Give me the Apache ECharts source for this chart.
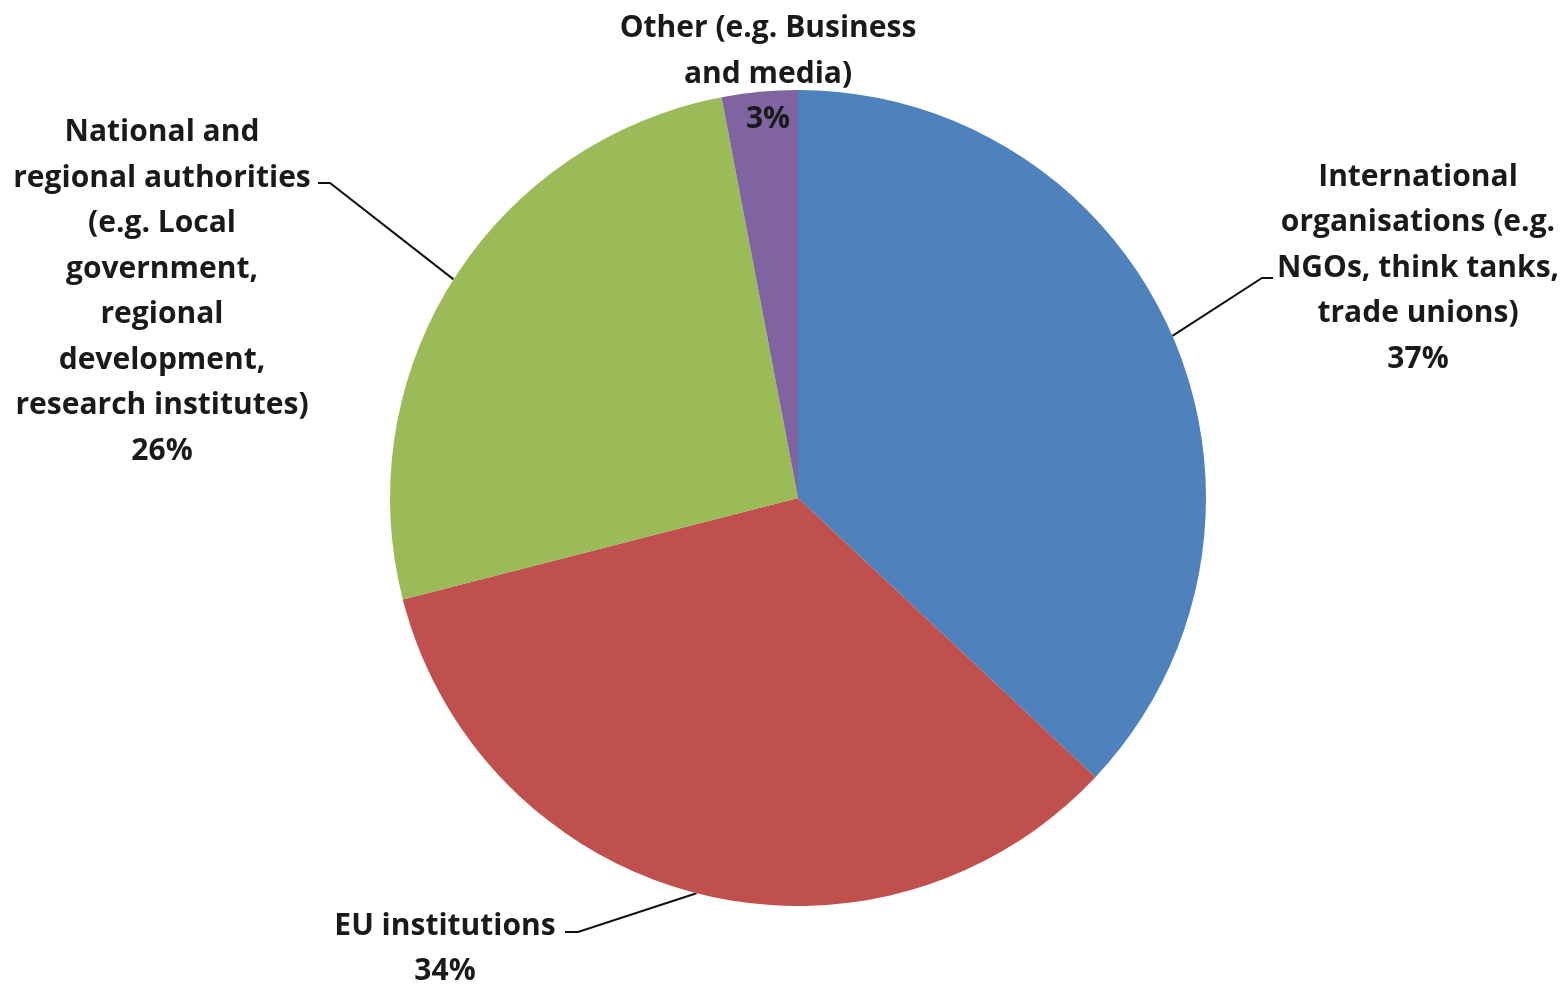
<!DOCTYPE html>
<html>
<head>
<meta charset="utf-8">
<script src="https://cdn.jsdelivr.net/npm/echarts@6/dist/echarts.min.js"></script>
<style>
html,body{margin:0;padding:0;background:#fff;}
#chart{width:1565px;height:984px;}
</style>
</head>
<body>
<div id="chart"></div>
<script>
// Data
const categories = [
  'International organisations (e.g. NGOs, think tanks, trade unions)',
  'EU institutions',
  'National and regional authorities (e.g. Local government, regional development, research institutes)',
  'Other (e.g. Business and media)'
];
const values = [37, 34, 26, 3];
const labelLines = [
  ['International', 'organisations (e.g.', 'NGOs, think tanks,', 'trade unions)'],
  ['EU institutions'],
  ['National and', 'regional authorities', '(e.g. Local', 'government,', 'regional', 'development,', 'research institutes)'],
  ['Other (e.g. Business', 'and media)']
];
const colors = ['#4F81BD', '#C0504D', '#9BBB59', '#8064A2'];

// label placement (layout only)
const labelPos = [
  { x: 1418, y: 268 },
  { x: 445, y: 949 },
  { x: 162, y: 292 },
  { x: 768, y: 74 }
];
const leaderEnds = [
  [[1262, 278], [1273, 278]],
  [[578, 932], [565, 932]],
  [[330, 183], [318, 183]],
  null
];

const chart = echarts.init(document.getElementById('chart'), null, { renderer: 'canvas' });

chart.setOption({
  animation: false,
  backgroundColor: '#ffffff',
  series: [{
    type: 'pie',
    center: [798, 498],
    radius: 408,
    startAngle: 90,
    clockwise: true,
    avoidLabelOverlap: false,
    itemStyle: { borderWidth: 0 },
    label: {
      show: true,
      position: 'outside',
      color: '#1a1a1a',
      fontFamily: 'Open Sans',
      fontWeight: 'bold',
      fontSize: 30,
      lineHeight: 45.5,
      align: 'center',
      formatter: function (p) {
        return labelLines[p.dataIndex].join('\n') + '\n' + p.value + '%';
      }
    },
    labelLine: {
      show: true,
      lineStyle: { color: '#111', width: 2 }
    },
    labelLayout: function (params) {
      const i = params.dataIndex;
      const out = {
        x: labelPos[i].x,
        y: labelPos[i].y,
        align: 'center',
        verticalAlign: 'middle'
      };
      if (leaderEnds[i] && params.labelLinePoints) {
        out.labelLinePoints = [params.labelLinePoints[0], leaderEnds[i][0], leaderEnds[i][1]];
      }
      return out;
    },
    data: categories.map(function (c, i) {
      const d = { name: c, value: values[i], itemStyle: { color: colors[i] } };
      if (!leaderEnds[i]) d.labelLine = { show: false };
      return d;
    })
  }]
});
</script>
</body>
</html>
